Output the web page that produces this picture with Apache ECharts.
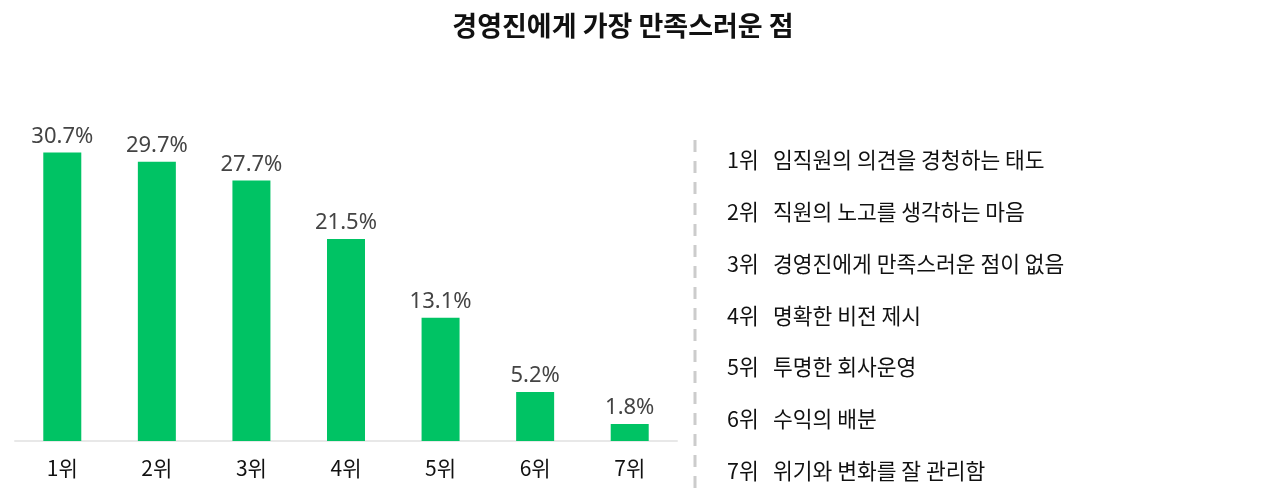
<!DOCTYPE html>
<html>
<head>
<meta charset="utf-8">
<script src="https://cdn.jsdelivr.net/npm/echarts@6/dist/echarts.min.js"></script>
<style>
  html, body { margin: 0; padding: 0; background: #fff; }
  #chart { width: 1280px; height: 497px; }
</style>
</head>
<body>
<div id="chart"></div>
<script>
  var titleText = '경영진에게 가장 만족스러운 점';
  var categories = ['1위', '2위', '3위', '4위', '5위', '6위', '7위'];
  var values = [30.7, 29.7, 27.7, 21.5, 13.1, 5.2, 1.8];
  var descriptions = [
    '임직원의 의견을 경청하는 태도',
    '직원의 노고를 생각하는 마음',
    '경영진에게 만족스러운 점이 없음',
    '명확한 비전 제시',
    '투명한 회사운영',
    '수익의 배분',
    '위기와 변화를 잘 관리함'
  ];

  var font = '"Noto Sans CJK KR", "Noto Sans", sans-serif';
  var numFont = '"Noto Sans", "Open Sans", sans-serif';
  var chart = echarts.init(document.getElementById('chart'));

  // right-hand ranking list
  var listItems = [];
  for (var i = 0; i < categories.length; i++) {
    var cy = 160 + i * 51.8;
    listItems.push({
      type: 'text',
      x: 727, y: cy,
      style: { text: categories[i], fill: '#111', font: '21.5px ' + font, verticalAlign: 'middle' }
    });
    listItems.push({
      type: 'text',
      x: 773, y: cy,
      style: { text: descriptions[i], fill: '#111', font: '21.5px ' + font, verticalAlign: 'middle' }
    });
  }
  listItems.push({
    type: 'line',
    shape: { x1: 695, y1: 140, x2: 695, y2: 492 },
    style: { stroke: '#cccccc', lineWidth: 3, lineDash: [12, 9] }
  });

  chart.setOption({
    animation: false,
    textStyle: { fontFamily: font },
    title: {
      text: titleText,
      left: 618,
      textAlign: 'center',
      top: 7,
      textStyle: { fontSize: 27, fontWeight: 'bold', color: '#111', fontFamily: font }
    },
    grid: { left: 15, right: 603, top: 112, bottom: 56 },
    xAxis: {
      type: 'category',
      data: categories,
      axisLine: { lineStyle: { color: '#e8e8e8', width: 2 } },
      axisTick: { show: false },
      axisLabel: { color: '#111', fontSize: 21, margin: 17, fontFamily: font }
    },
    yAxis: {
      type: 'value',
      min: 0,
      max: 35,
      show: false
    },
    series: [{
      type: 'bar',
      data: values,
      barWidth: 38,
      itemStyle: { color: '#00c364' },
      label: {
        show: true,
        position: 'top',
        distance: 5,
        formatter: '{c}%',
        color: '#444',
        fontSize: 22,
        fontFamily: numFont
      }
    }],
    graphic: listItems
  });
</script>
</body>
</html>
